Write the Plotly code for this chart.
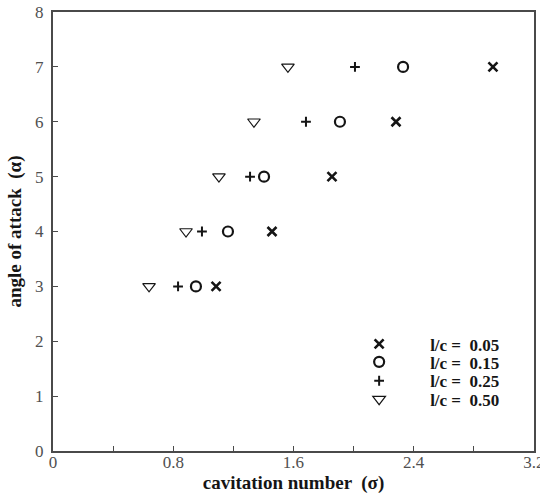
import plotly.graph_objects as go

alpha = [3, 4, 5, 6, 7]
sigma_005 = [1.085, 1.457, 1.856, 2.282, 2.927]
sigma_015 = [0.951, 1.164, 1.404, 1.909, 2.329]
sigma_025 = [0.832, 0.991, 1.311, 1.683, 2.009]
sigma_050 = [0.639, 0.885, 1.104, 1.337, 1.563]

x_tickvals = [0, 0.4, 0.8, 1.2, 1.6, 2.0, 2.4, 2.8, 3.2]
x_ticktext = ["0", "", "0.8", "", "1.6", "", "2.4", "", "3.2"]
y_tickvals = [0, 1, 2, 3, 4, 5, 6, 7, 8]

labels = ["l/c =  0.05", "l/c =  0.15", "l/c =  0.25", "l/c =  0.50"]
ink = "#151515"
markers = [
    dict(symbol="x-thin", size=9, color=ink, line=dict(width=2.6, color=ink)),
    dict(symbol="circle-open", size=10, color=ink, line=dict(width=2.2, color=ink)),
    dict(symbol="cross-thin", size=7, color=ink, line=dict(width=2, color=ink)),
    dict(symbol="triangle-down-open", size=11, color=ink, line=dict(width=1.2, color=ink)),
]
data = [sigma_005, sigma_015, sigma_025, sigma_050]
legend_ids = ["legend", "legend2", "legend3", "legend4"]
legend_rows_y = [0.243, 0.202, 0.159, 0.117]

serif = "Liberation Serif, Times New Roman, serif"

fig = go.Figure()
for lab, xs, mk, lid in zip(labels, data, markers, legend_ids):
    fig.add_trace(go.Scatter(x=xs, y=alpha, mode="markers", name="<b>" + lab + "</b>",
                             marker=mk, legend=lid))

axis_common = dict(
    showline=True, linecolor="#4a4a4a", linewidth=2, mirror=True,
    ticks="inside", ticklen=5, tickcolor="#4a4a4a", tickwidth=1,
    showgrid=False, zeroline=False, ticklabeloverflow="allow", automargin=False,
    tickfont=dict(family=serif, size=17, color="#505050"),
)
fig.update_xaxes(range=[0, 3.2001], tickvals=x_tickvals, ticktext=x_ticktext, ticklabelstandoff=-5,
                 title=dict(text="<b>cavitation number  (σ)</b>", font=dict(family=serif, size=19, color=ink), standoff=2),
                 **axis_common)
fig.update_yaxes(range=[0, 8], tickvals=y_tickvals, ticklabelstandoff=4,
                 title=dict(text="<b>angle of attack  (α)</b>", font=dict(family=serif, size=19, color=ink), standoff=8),
                 **axis_common)

legend_common = dict(x=0.572, xanchor="left", yanchor="middle",
                     bgcolor="rgba(0,0,0,0)", itemwidth=92,
                     font=dict(family=serif, size=17, color=ink))
layout_legends = {lid: dict(y=yy, **legend_common) for lid, yy in zip(legend_ids, legend_rows_y)}

fig.update_layout(
    width=540, height=496,
    margin=dict(l=53, r=6, t=12, b=45, autoexpand=False),
    plot_bgcolor="white", paper_bgcolor="white",
    showlegend=True,
    **layout_legends,
)

fig.write_html("out.html")
